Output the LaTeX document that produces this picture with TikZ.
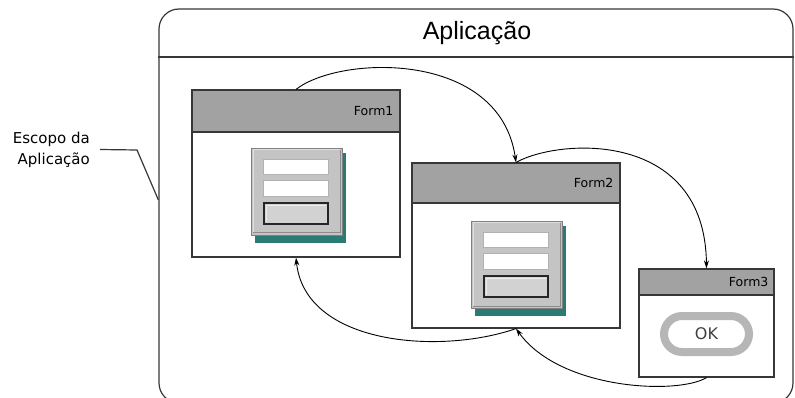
\documentclass[tikz,border=0pt]{standalone}
\usepackage{fontspec}
\setmainfont{Liberation Sans}
\newfontfamily\formfont{DejaVu Sans}
\usetikzlibrary{arrows.meta}

\definecolor{headgray}{RGB}{162,162,162}
\definecolor{panelgray}{RGB}{196,196,196}
\definecolor{shadowteal}{RGB}{44,122,116}
\definecolor{framegray}{RGB}{55,55,55}
\definecolor{okgray}{RGB}{182,182,182}

\tikzset{
	form/.style = {draw = framegray, line width = 1.2pt, fill = white, inner sep = 0pt},
	formhead/.style = {draw = framegray, line width = 1.2pt, fill = headgray, inner sep = 0pt},
	formlabel/.style = {font = \formfont\fontsize{12.5}{13}\selectfont, inner sep = 0pt},
	scopelabel/.style = {font = \formfont\fontsize{15}{21}\selectfont, align = right, inner sep = 0pt},
	okbtn/.style = {draw = okgray, line width = 8pt, fill = white, rounded corners = 18pt,
		minimum width = 85pt, minimum height = 36pt, text = black!75,
		font = \formfont\fontsize{16}{16}\selectfont},
	flow/.style = {-{Stealth[length = 8pt, width = 5pt]}, line width = .9pt},
	leader/.style = {draw = framegray, line width = 1.2pt}
}

\begin{document}
\begin{tikzpicture}[x = 1pt, y = -1pt]
	\useasboundingbox (0,0) rectangle (795,398);
	\clip (0,0) rectangle (795,398);

	% application frame
	\node[draw = framegray, line width = 1.2pt, rounded corners = 20pt, minimum width = 634pt,
		minimum height = 394pt, inner sep = 0pt] (app) at (476,206) {};
	\draw[framegray, line width = 1.2pt] (app.west |- 0,57) -- (app.east |- 0,57);
	\node[font = \fontsize{25}{25}\selectfont] (title) at (477,33) {Aplicação};

	\node[scopelabel, anchor = east] (scope) at (90,149.5) {Escopo da\\Aplicação};
	\coordinate (knee) at (137,150);
	\draw[leader] ([xshift = 10pt]scope.east) -- (knee) -- ([yshift = 6pt]app.west);

	% the three forms
	\node[form, minimum width = 208pt, minimum height = 167pt] (form1) at (296,173.5) {};
	\node[formhead, minimum width = 208pt, minimum height = 42pt, anchor = north] (head1) at (form1.north) {};
	\node[formlabel, anchor = east] (label1) at ([xshift = -7pt]head1.east) {Form1};

	\node[form, minimum width = 208pt, minimum height = 165pt] (form2) at (516,245.5) {};
	\node[formhead, minimum width = 208pt, minimum height = 40pt, anchor = north] (head2) at (form2.north) {};
	\node[formlabel, anchor = east] (label2) at ([xshift = -7pt]head2.east) {Form2};

	\node[form, minimum width = 135pt, minimum height = 108pt] (form3) at (706.5,323) {};
	\node[formhead, minimum width = 135pt, minimum height = 26pt, anchor = north] (head3) at (form3.north) {};
	\node[formlabel, anchor = east] (label3) at ([xshift = -6pt]head3.east) {Form3};

	% login panels
	\foreach \px/\py in {251/148, 471/221} {
		\fill[shadowteal] (\px+4,\py+5) rectangle (\px+95,\py+95);
		\filldraw[fill = panelgray, draw = gray] (\px,\py) rectangle (\px+91,\py+87);
		\draw[white!75!gray, line width = 1pt] (\px+2,\py+85) -- (\px+2,\py+2) -- (\px+89,\py+2);
		\draw[gray!90, line width = 1pt] (\px+2,\py+85) -- (\px+89,\py+85) -- (\px+89,\py+2);
		\filldraw[fill = white, draw = gray!60] (\px+12,\py+11) rectangle (\px+77,\py+26);
		\filldraw[fill = white, draw = gray!60] (\px+12,\py+32) rectangle (\px+77,\py+48);
		\filldraw[fill = gray!35, draw = black!85, line width = 1.3pt] (\px+13,\py+55) rectangle (\px+77,\py+76);
		\draw[white!85!gray] (\px+15.5,\py+73.5) -- (\px+15.5,\py+57.5) -- (\px+74.5,\py+57.5);
	}

	\node[okbtn] (ok) at (706.5,334) {OK};

	% navigation between forms
	\draw[flow] (form1.north) .. controls (340,55) and (500,50) .. (form2.north);
	\draw[flow] (form2.north) .. controls (560,138) and (705,130) .. (form3.north);
	\draw[flow] (form3.south) .. controls (678,395) and (560,390) .. (form2.south);
	\draw[flow] (form2.south) .. controls (440,355) and (305,345) .. (form1.south);
\end{tikzpicture}
\end{document}
